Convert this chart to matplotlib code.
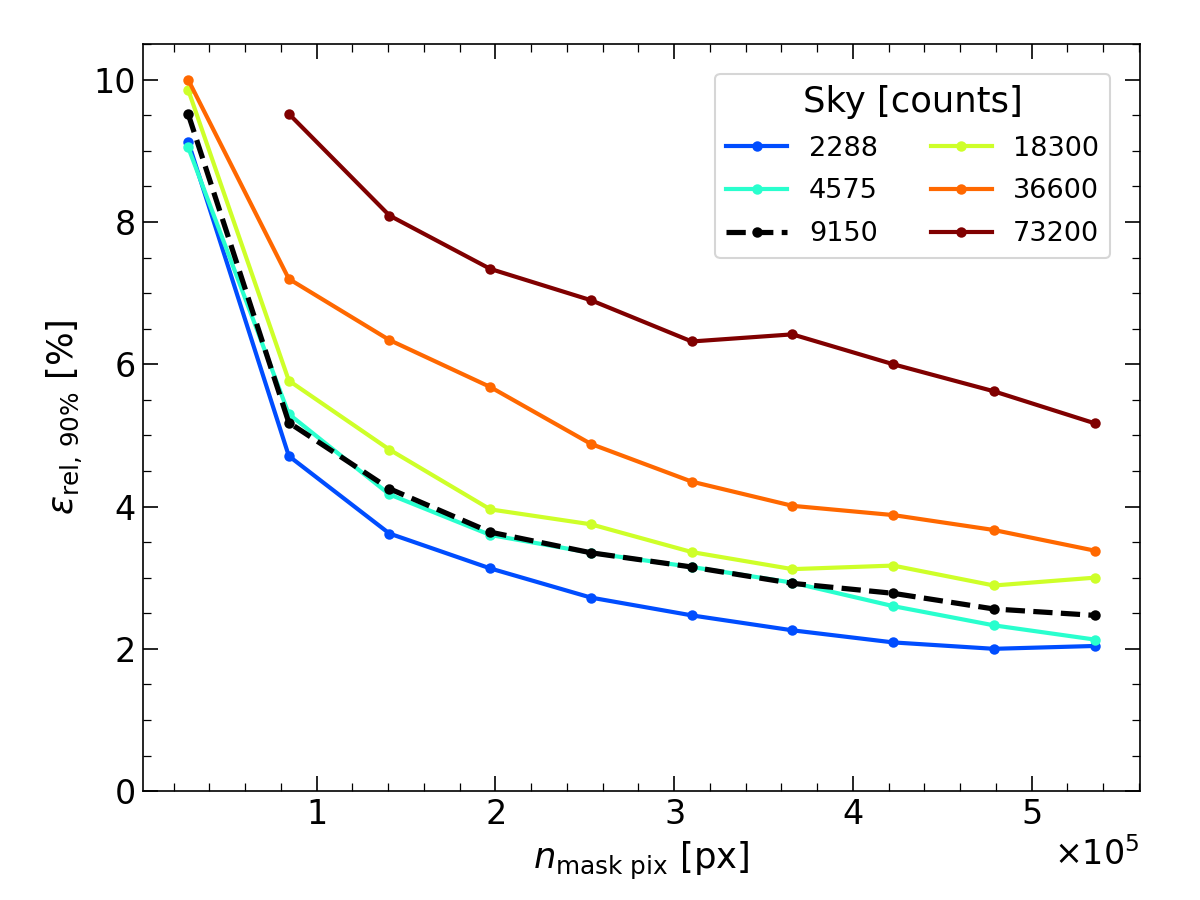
import numpy as np
import matplotlib.pyplot as plt
from matplotlib.ticker import AutoMinorLocator

# データ
n_mask = [0.2817e5, 0.845e5, 1.408e5, 1.972e5, 2.535e5,
          3.099e5, 3.662e5, 4.226e5, 4.789e5, 5.353e5]
sky_labels = ['2288', '4575', '9150', '18300', '36600', '73200']

eps_2288 = [9.13, 4.71, 3.62, 3.13, 2.72, 2.47, 2.26, 2.09, 2.00, 2.04]
eps_4575 = [9.05, 5.30, 4.17, 3.60, 3.35, 3.15, 2.93, 2.60, 2.33, 2.13]
eps_9150 = [9.52, 5.18, 4.25, 3.64, 3.35, 3.15, 2.92, 2.78, 2.56, 2.47]
eps_18300 = [9.86, 5.77, 4.80, 3.96, 3.75, 3.36, 3.12, 3.17, 2.89, 3.00]
eps_36600 = [10.00, 7.20, 6.34, 5.68, 4.88, 4.35, 4.01, 3.88, 3.67, 3.38]
eps_73200 = [9.52, 8.09, 7.34, 6.90, 6.32, 6.42, 6.00, 5.62, 5.17]

cmap = plt.get_cmap('jet')

fig, ax = plt.subplots(figsize=(8, 6), dpi=150)
fig.subplots_adjust(left=0.119, right=0.95, top=0.951, bottom=0.121)

ax.plot(n_mask, eps_2288, '.-', color=cmap(0.2), lw=2, ms=8, label=sky_labels[0])
ax.plot(n_mask, eps_4575, '.-', color=cmap(0.4), lw=2, ms=8, label=sky_labels[1])
ax.plot(n_mask, eps_9150, '.--', color='black', lw=2.5, ms=8, label=sky_labels[2])
ax.plot(n_mask, eps_18300, '.-', color=cmap(0.6), lw=2, ms=8, label=sky_labels[3])
ax.plot(n_mask, eps_36600, '.-', color=cmap(0.8), lw=2, ms=8, label=sky_labels[4])
ax.plot(n_mask[1:], eps_73200, '.-', color=cmap(1.0), lw=2, ms=8, label=sky_labels[5])

ax.set_ylim(0, 10.5)
ax.ticklabel_format(axis='x', style='sci', scilimits=(0, 0), useMathText=True)
ax.xaxis.get_offset_text().set_fontsize(16)
ax.xaxis.set_minor_locator(AutoMinorLocator(5))
ax.yaxis.set_minor_locator(AutoMinorLocator(4))
ax.tick_params(which='both', direction='in', top=True, right=True, labelsize=16)
ax.tick_params(which='major', length=7)
ax.tick_params(which='minor', length=4)

ax.set_xlabel(r'$n_{\rm mask\ pix}$ [px]', fontsize=17)
ax.set_ylabel(r'$\varepsilon_{\rm rel,\,90\%}$ [%]', fontsize=17)

leg = ax.legend(title='Sky [counts]', ncol=2, fontsize=13, title_fontsize=17,
                loc='upper right', handlelength=2.25, columnspacing=1.95,
                labelspacing=0.62, borderaxespad=1.1)

plt.savefig('out.png', dpi=150)
